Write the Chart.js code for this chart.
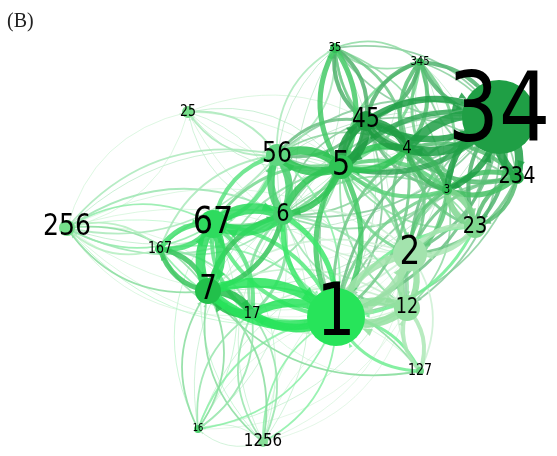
<!DOCTYPE html>
<html>
<head>
<meta charset="utf-8">
<script src="https://cdn.jsdelivr.net/npm/chart.js@4.4.1/dist/chart.umd.min.js"></script>
<style>
  html, body { margin: 0; padding: 0; background: #ffffff; }
  #wrap { position: relative; width: 557px; height: 456px; }
  #tag { position: absolute; left: 7px; top: 9px; font: 20px "Liberation Serif", "DejaVu Serif", serif; color: #222; }
</style>
</head>
<body>
<div id="wrap">
  <canvas id="net"></canvas>
  <div id="tag">(B)</div>
</div>
<script>
// Itemsets (nodes) of the co-occurrence network
const nodeLabels = ['34', '1', '2', '5', '45', '67', '7', '56', '6', '256', '234', '23',
                    '12', '4', '3', '1256', '25', '17', '167', '127', '35', '345', '16'];
// Layout coordinates of each node
const nodeX = [499, 336, 410, 341, 366, 213, 208, 277, 283, 67, 517, 475,
               407, 407, 447, 263, 188, 252, 160, 420, 335, 420, 198];
const nodeY = [117, 317, 254, 167, 121, 224, 291, 155, 215, 228, 177, 227,
               308, 149, 190, 442, 112, 314, 249, 371, 48, 62, 429];
// Node weight (drawn as bubble radius) and label weight (font px)
const nodeWeight = [37, 29, 17, 12, 10, 14, 13, 11, 10, 8, 7, 11,
                    13, 5, 5, 5, 6, 5, 5, 4, 5, 4, 4];
const labelWeight = [96, 73, 39, 34, 26, 38, 33, 28, 25, 30, 23, 23,
                     21, 18, 12, 18, 15, 16, 15, 15, 12, 12, 10];

// Links: [owner, other, strength]
const edgeList = [
  ['34','4',9], ['34','234',8], ['34','3',6], ['34','45',6], ['34','5',5], ['34','23',4],
  ['34','345',4], ['34','1',3], ['34','2',3], ['34','35',2], ['34','6',2], ['34','56',2],
  ['34','12',2], ['34','7',1], ['34','67',1],
  ['45','5',9], ['45','4',7], ['45','35',4], ['45','345',4], ['45','3',3], ['45','56',3],
  ['45','6',2], ['45','1',2], ['45','234',2],
  ['5','56',8], ['5','6',6], ['5','4',6], ['5','1',5], ['5','35',5], ['5','345',3], ['5','3',4],
  ['5','67',3], ['5','2',3], ['5','7',2], ['5','23',2], ['5','25',1], ['5','256',1], ['5','12',2],
  ['4','3',5], ['4','345',4], ['4','35',3], ['4','234',4], ['4','1',3], ['4','2',3], ['4','23',3],
  ['4','6',2], ['4','56',2],
  ['3','234',5], ['3','2',4], ['3','1',3], ['3','345',3], ['3','35',2], ['3','12',2], ['3','6',2],
  ['23','3',6], ['234','23',4], ['234','2',3], ['234','345',2], ['234','1',2],
  ['2','23',5], ['2','1',7], ['12','2',6], ['2','127',2], ['2','6',2], ['2','7',2], ['2','17',1], ['2','56',1],
  ['12','1',8], ['1','17',8], ['1','7',9], ['1','6',5], ['1','67',4], ['1','127',3], ['1','16',2],
  ['1','1256',2], ['1','23',3], ['1','56',2], ['1','167',2], ['1','256',1],
  ['12','127',4], ['12','17',2], ['12','7',2], ['12','16',1], ['12','1256',1],
  ['67','6',10], ['67','7',9], ['67','167',5], ['67','17',4], ['67','56',4], ['67','256',2],
  ['67','16',1], ['67','1256',1],
  ['7','17',8], ['7','167',5], ['7','6',5], ['7','256',2], ['7','16',2], ['7','1256',2], ['7','127',2],
  ['6','56',7], ['6','17',3], ['6','167',2], ['6','256',2], ['6','25',1], ['6','1256',1], ['6','16',1], ['6','12',2],
  ['56','25',2], ['56','256',2], ['56','35',2], ['56','167',2], ['56','2',1],
  ['256','25',1], ['256','167',2], ['256','17',1], ['256','12',1], ['256','2',1],
  ['25','2',1], ['25','4',1],
  ['35','345',2], ['35','6',1], ['35','1',1],
  ['345','23',1], ['345','2',1],
  ['17','16',2], ['17','1256',2], ['17','167',2],
  ['16','1256',1], ['16','2',1],
  ['127','17',1], ['127','7',1],
  ['1256','2',1]
];

// Fill colours of the nodes (green family)
const nodeColor = ['#1f9f45', '#27e45a', '#a3e3ad', '#2fc455', '#1e9c42', '#2edb5e', '#22c04b',
                   '#5fd680', '#45cf6c', '#74df8a', '#26a848', '#7fd68f', '#93e0a0', '#28ae4b',
                   '#30b853', '#86de97', '#74dc88', '#3ecf66', '#40cf68', '#6fd886', '#30bb55',
                   '#35b958', '#4fd070'];

const indexOf = {};
nodeLabels.forEach((l, i) => { indexOf[l] = i; });

function hexRgb(h) {
  return [parseInt(h.slice(1, 3), 16), parseInt(h.slice(3, 5), 16), parseInt(h.slice(5, 7), 16)];
}
// Stronger links keep more of the owner's colour, weak links fade toward white
function linkColor(owner, w) {
  const t = Math.min(1, 0.3 + 0.12 * w);
  const c = hexRgb(nodeColor[owner]);
  return 'rgb(' + c.map(v => Math.round(255 - (255 - v) * t)).join(',') + ')';
}

const ARC = 0.3;

const linkPlugin = {
  id: 'links',
  beforeDatasetsDraw(chart) {
    const ctx = chart.ctx;
    const xs = chart.scales.x, ys = chart.scales.y;
    const px = nodeLabels.map((_, i) => [xs.getPixelForValue(nodeX[i]), ys.getPixelForValue(nodeY[i])]);
    const arcs = [];
    edgeList.forEach(([a, b, w]) => {
      const i = indexOf[a], j = indexOf[b];
      arcs.push([i, j, w, i]);
      arcs.push([j, i, w, i]);
    });
    arcs.sort((p, q) => p[2] - q[2]);
    ctx.save();
    ctx.globalAlpha = 0.85;
    arcs.forEach(([s, e, w, owner]) => {
      const [x1, y1] = px[s], [x2, y2] = px[e];
      const dx = x2 - x1, dy = y2 - y1;
      const cx = (x1 + x2) / 2 + ARC * dy;
      const cy = (y1 + y2) / 2 - ARC * dx;
      const lw = 0.7 + (w - 1) * 1.1;
      const col = linkColor(owner, w);
      ctx.strokeStyle = col;
      ctx.fillStyle = col;
      ctx.lineWidth = lw;
      ctx.beginPath();
      ctx.moveTo(x1, y1);
      ctx.quadraticCurveTo(cx, cy, x2, y2);
      ctx.stroke();
      // arrow head at the border of the target node
      let tx = x2 - cx, ty = y2 - cy;
      const tl = Math.hypot(tx, ty) || 1;
      tx /= tl; ty /= tl;
      const rEnd = nodeWeight[e];
      const hx = x2 - tx * rEnd, hy = y2 - ty * rEnd;
      const len = 2 + lw * 0.9, half = len * 0.4;
      const bx = hx - tx * len, by = hy - ty * len;
      ctx.beginPath();
      ctx.moveTo(hx, hy);
      ctx.lineTo(bx - ty * half, by + tx * half);
      ctx.lineTo(bx + ty * half, by - tx * half);
      ctx.closePath();
      ctx.fill();
    });
    ctx.restore();
  },
  afterDatasetsDraw(chart) {
    const ctx = chart.ctx;
    const xs = chart.scales.x, ys = chart.scales.y;
    ctx.save();
    ctx.fillStyle = '#000000';
    ctx.textAlign = 'center';
    ctx.textBaseline = 'alphabetic';
    nodeLabels.forEach((l, i) => {
      const fs = labelWeight[i];
      ctx.save();
      ctx.translate(xs.getPixelForValue(nodeX[i]), ys.getPixelForValue(nodeY[i]));
      ctx.scale(0.84, 1);
      ctx.font = fs + 'px "DejaVu Sans", sans-serif';
      ctx.fillText(l, 0, 0.245 * fs);
      ctx.restore();
    });
    ctx.restore();
  }
};

new Chart(document.getElementById('net'), {
  type: 'bubble',
  data: {
    datasets: [{
      data: nodeLabels.map((_, i) => ({ x: nodeX[i], y: nodeY[i], r: nodeWeight[i] })),
      backgroundColor: nodeColor,
      borderWidth: 0
    }]
  },
  options: {
    responsive: true,
    maintainAspectRatio: false,
    animation: false,
    events: [],
    layout: { padding: 0, autoPadding: false },
    clip: false,
    plugins: { legend: { display: false }, tooltip: { enabled: false }, title: { display: false } },
    scales: {
      x: { type: 'linear', min: 0, max: 557, display: false },
      y: { type: 'linear', min: 0, max: 456, reverse: true, display: false }
    }
  },
  plugins: [linkPlugin]
});
</script>
</body>
</html>
